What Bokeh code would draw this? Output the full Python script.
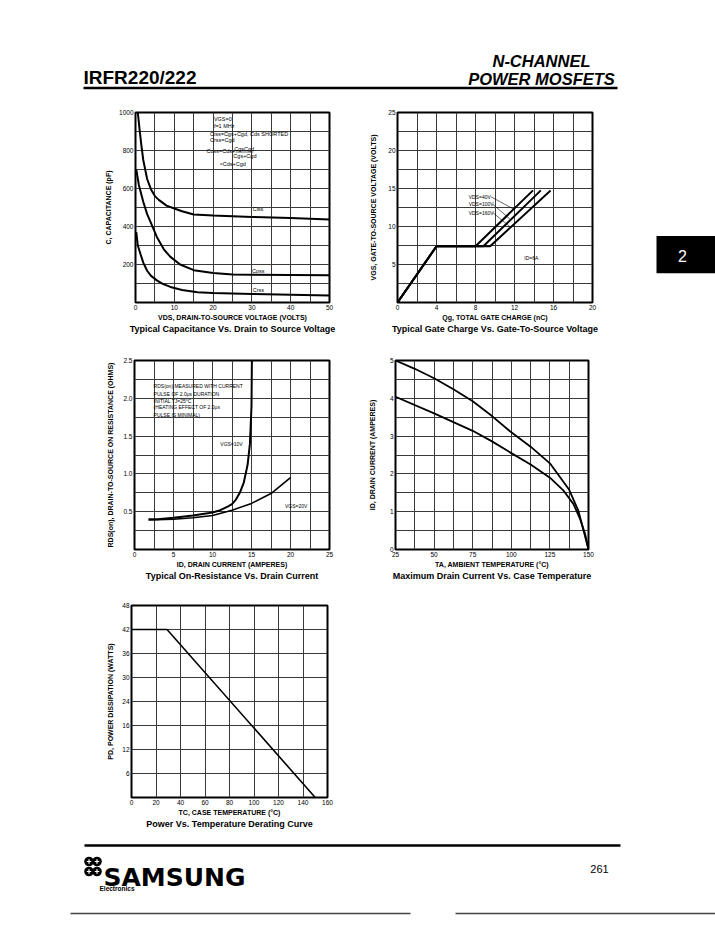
from bokeh.plotting import figure
from bokeh.layouts import column, row
from bokeh.models import FixedTicker, Range1d, Spacer, LinearAxis
from bokeh.core.properties import value
from bokeh.embed import file_html
from bokeh.resources import INLINE

FONT = "Liberation Sans"

# ---------------- data ----------------
# Typical capacitance vs drain-to-source voltage
ciss_vds = [0.6, 1.0, 1.5, 2, 3, 4, 5, 6, 8, 10, 12, 15, 20, 30, 40, 50]
ciss_pf = [1000, 920, 830, 750, 650, 595, 560, 540, 510, 495, 480, 463, 458, 450, 445, 437]
coss_vds = [0.2, 0.85, 2, 3, 4, 5.5, 7.3, 9, 11.5, 15, 20, 25, 30, 40, 50]
coss_pf = [700, 620, 530, 465, 418, 345, 280, 240, 200, 170, 155, 148, 146, 145, 144]
crss_vds = [0.2, 0.6, 1.3, 2, 3, 4, 5.6, 7, 9, 12, 16, 20, 30, 40, 50]
crss_pf = [370, 300, 254, 210, 167, 140, 115, 98, 82, 66, 54, 50, 45, 41, 37]

# Typical gate charge vs gate-to-source voltage (ID = 6A)
qg_40v = [0, 4, 8.0, 13.9]
vgs_40v = [0, 7.4, 7.4, 14.75]
qg_100v = [0, 4, 8.8, 14.7]
vgs_100v = [0, 7.4, 7.4, 14.75]
qg_160v = [0, 4, 9.5, 15.7]
vgs_160v = [0, 7.4, 7.4, 14.75]

# Typical on-resistance vs drain current
id_10v = [1.8, 3, 5, 7.5, 10, 11, 12, 12.5, 13, 13.5, 14, 14.5, 14.8, 15.0, 15.05]
rds_10v = [0.40, 0.40, 0.42, 0.45, 0.49, 0.52, 0.57, 0.60, 0.66, 0.75, 0.88, 1.12, 1.40, 1.90, 2.5]
id_20v = [1.8, 5, 7.5, 10, 12.5, 15, 17.5, 20]
rds_20v = [0.39, 0.40, 0.42, 0.45, 0.52, 0.61, 0.74, 0.95]

# Maximum drain current vs case temperature
ta_upper = [25, 37.5, 50, 62.5, 75, 87.5, 100, 112.5, 125, 137.5, 143.5, 146.8, 150]
id_upper = [5.0, 4.78, 4.53, 4.24, 3.92, 3.53, 3.10, 2.72, 2.28, 1.58, 1.02, 0.5, 0.0]
ta_lower = [25, 50, 75, 87.5, 100, 112.5, 125, 134, 140.3, 144.6, 147.8, 150]
id_lower = [4.04, 3.6, 3.14, 2.86, 2.55, 2.25, 1.9, 1.55, 1.2, 0.8, 0.41, 0.0]

# Power vs temperature derating
tc_deg = [0, 29, 150]
pd_watts = [42, 42, 0]

# tick labels
cap_xticks = [0, 10, 20, 30, 40, 50]
cap_yticks = [200, 400, 600, 800, 1000]
qg_xticks = [0, 4, 8, 12, 16, 20]
qg_yticks = [5, 10, 15, 20, 25]
ron_xticks = [0, 5, 10, 15, 20, 25]
ron_yticks = [0.5, 1.0, 1.5, 2.0, 2.5]
ron_ylabels = ["0.5", "1.0", "1.5", "2.0", "2.5"]
idt_xticks = [25, 50, 75, 100, 125, 150]
idt_yticks = [0, 1, 2, 3, 4, 5]
pd_xticks = [0, 20, 40, 60, 80, 100, 120, 140, 160]
pd_yticks = [6, 12, 18, 24, 30, 36, 42, 48]
pd_ylabels = ["6", "12", "16", "24", "30", "36", "42", "48"]


def frange(a, b, step):
    out = []
    v = a + step
    while v < b - 1e-9:
        out.append(round(v, 6))
        v += step
    return out


def chart(width, height, left, right, top, bottom, xr, yr, xstep, ystep,
          xticks, yticks, xlabel, ylabel, title, ystand):
    p = figure(width=width, height=height, x_range=Range1d(*xr), y_range=Range1d(*yr),
               output_backend="svg", toolbar_location=None, title=None,
               min_border_left=left, min_border_right=right,
               min_border_top=top, min_border_bottom=bottom)
    p.outline_line_color = "black"
    p.outline_line_width = 2
    p.outline_line_alpha = 1
    p.xgrid.ticker = FixedTicker(ticks=frange(xr[0], xr[1], xstep))
    p.ygrid.ticker = FixedTicker(ticks=frange(yr[0], yr[1], ystep))
    for g in (p.xgrid[0], p.ygrid[0]):
        g.grid_line_color = "#3a3a3a"
        g.grid_line_width = 1
        g.grid_line_alpha = 1
    p.xaxis.ticker = FixedTicker(ticks=xticks)
    p.yaxis.ticker = FixedTicker(ticks=yticks)
    for ax in (p.xaxis[0], p.yaxis[0]):
        ax.axis_line_color = None
        ax.major_tick_line_color = None
        ax.minor_tick_line_color = None
        ax.major_tick_out = 0
        ax.major_tick_in = 0
        ax.major_label_text_font = FONT
        ax.major_label_text_font_size = "6.5px"
        ax.major_label_text_color = "black"
        ax.major_label_standoff = 2
        ax.axis_label_text_font = FONT
        ax.axis_label_text_font_size = "7px"
        ax.axis_label_text_font_style = "bold"
        ax.axis_label_text_color = "black"
        ax.axis_label_standoff = 1
    p.yaxis[0].axis_label_standoff = ystand
    p.xaxis[0].axis_label = xlabel
    p.yaxis[0].axis_label = ylabel
    # chart caption, set as the label of a second (tickless) bottom axis
    cap = LinearAxis(ticker=FixedTicker(ticks=[]), axis_label=title,
                     axis_line_color=None, major_tick_line_color=None,
                     minor_tick_line_color=None, major_tick_out=0, major_tick_in=0,
                     major_label_standoff=0, axis_label_standoff=0,
                     axis_label_text_font=FONT, axis_label_text_font_size="9px",
                     axis_label_text_font_style="bold", axis_label_text_color="black")
    p.add_layout(cap, "below")
    return p


def note(p, x, y, txt, size="5.5px", align="left"):
    p.text(x=[x], y=[y], text=[txt], text_font=value(FONT), text_font_size=size,
           text_baseline="middle", text_align=align, text_color="black")


# ---------------- chart 1: capacitance ----------------
p1 = chart(360, 240, 135, 31, 10, 38, (0, 50), (0, 1000), 5, 100, cap_xticks, cap_yticks,
           "VDS, DRAIN-TO-SOURCE VOLTAGE (VOLTS)", "C, CAPACITANCE (pF)",
           "Typical Capacitance Vs. Drain to Source Voltage", 4)
p1.line(ciss_vds, ciss_pf, line_color="black", line_width=2)
p1.line(coss_vds, coss_pf, line_color="black", line_width=2)
p1.line(crss_vds, crss_pf, line_color="black", line_width=2)
note(p1, 30.2, 490, "Ciss")
note(p1, 30, 168, "Coss")
note(p1, 30.2, 68, "Crss")
note(p1, 20.2, 965, "VGS=0")
note(p1, 20.2, 930, "f=1 MHz")
note(p1, 19.2, 886, "Ciss=Cgs+Cgd, Cds SHORTED")
note(p1, 19.2, 853, "Crss=Cgd")
note(p1, 18.3, 795, "Coss=Cds+")
note(p1, 28.0, 810, "CgsCgd", align="center")
p1.segment(x0=[25.8], y0=[792], x1=[30.4], y1=[792], line_color="black", line_width=0.6)
note(p1, 28.2, 770, "Cgs+Cgd", align="center")
note(p1, 21.7, 731, "≈Cds+Cgd")

# ---------------- chart 2: gate charge ----------------
p2 = chart(280, 240, 37, 48, 12, 36, (0, 20), (0, 25), 2, 2.5, qg_xticks, qg_yticks,
           "Qg, TOTAL GATE CHARGE (nC)", "VGS, GATE-TO-SOURCE VOLTAGE (VOLTS)",
           "Typical Gate Charge Vs. Gate-To-Source Voltage", 8)
p2.line(qg_40v, vgs_40v, line_color="black", line_width=2)
p2.line(qg_100v, vgs_100v, line_color="black", line_width=2)
p2.line(qg_160v, vgs_160v, line_color="black", line_width=2)
note(p2, 7.3, 13.9, "VDS=40V", size="5px")
note(p2, 7.3, 12.9, "VDS=100V", size="5px")
note(p2, 7.3, 11.8, "VDS=160V", size="5px")
p2.segment(x0=[9.6, 9.8, 9.8], y0=[13.9, 12.9, 11.8], x1=[11.9, 11.6, 11.6], y1=[12.3, 10.9, 9.9],
           line_color="black", line_width=0.6)
note(p2, 13.0, 5.9, "ID=6A", size="5px")

# ---------------- tab "2" ----------------
tab = figure(width=75, height=240, x_range=Range1d(640, 715), y_range=Range1d(340, 100),
             output_backend="svg", toolbar_location=None, x_axis_type=None, y_axis_type=None,
             min_border=0)
tab.outline_line_color = None
tab.grid.visible = False
tab.quad(left=[656], right=[715], top=[256], bottom=[303], fill_color="black", line_color=None)
tab.text(x=[682], y=[281], text=["2"], text_font=value(FONT), text_font_size="16px",
         text_color="white", text_align="center", text_baseline="middle")

# ---------------- chart 3: on-resistance ----------------
p3 = chart(360, 250, 134, 31, 17, 41, (0, 25), (0, 2.5), 2.5, 0.25, ron_xticks, ron_yticks,
           "ID, DRAIN CURRENT (AMPERES)", "RDS(on), DRAIN-TO-SOURCE ON RESISTANCE (OHMS)",
           "Typical On-Resistance Vs. Drain Current", 6)
p3.yaxis[0].major_label_overrides = {v: s for v, s in zip(ron_yticks, ron_ylabels)}
p3.line(id_10v, rds_10v, line_color="black", line_width=2)
p3.line(id_20v, rds_20v, line_color="black", line_width=1.6)
note(p3, 2.45, 2.16, "RDS(on) MEASURED WITH CURRENT", size="5px")
note(p3, 2.45, 2.06, "PULSE OF 2.0μs DURATION", size="5px")
note(p3, 2.45, 1.97, "INITIAL TJ=25°C", size="5px")
note(p3, 2.45, 1.88, "(HEATING EFFECT OF 2.0μs", size="5px")
note(p3, 2.45, 1.78, "PULSE IS MINIMAL)", size="5px")
note(p3, 11.0, 1.40, "VGS=10V", size="5px")
note(p3, 19.3, 0.57, "VGS=20V", size="5px")

# ---------------- chart 4: max drain current ----------------
p4 = chart(280, 250, 35, 52, 20, 39, (25, 150), (0, 5), 12.5, 0.5, idt_xticks, idt_yticks,
           "TA, AMBIENT TEMPERATURE (°C)", "ID, DRAIN CURRENT (AMPERES)",
           "Maximum Drain Current Vs. Case Temperature", 11)
p4.line(ta_upper, id_upper, line_color="black", line_width=1.8)
p4.line(ta_lower, id_lower, line_color="black", line_width=1.8)

# ---------------- chart 5: power derating ----------------
p5 = chart(360, 248, 131, 33, 15, 41, (0, 160), (0, 48), 20, 6, pd_xticks, pd_yticks,
           "TC, CASE TEMPERATURE (°C)", "PD, POWER DISSIPATION (WATTS)",
           "Power Vs. Temperature Derating Curve", 5)
p5.yaxis[0].major_label_overrides = {v: s for v, s in zip(pd_yticks, pd_ylabels)}
p5.line(tc_deg, pd_watts, line_color="black", line_width=1.6)

# ---------------- header ----------------
hdr = figure(width=715, height=100, x_range=Range1d(0, 715), y_range=Range1d(100, 0),
             output_backend="svg", toolbar_location=None, x_axis_type=None, y_axis_type=None,
             min_border=0)
hdr.outline_line_color = None
hdr.grid.visible = False
hdr.text(x=[83], y=[77], text=["IRFR220/222"], text_font=value(FONT), text_font_size="19px",
         text_font_style="bold", text_baseline="alphabetic", text_align="left", text_color="black")
hdr.text(x=[541, 541], y=[60, 78], text=["N-CHANNEL", "POWER MOSFETS"], text_font=value(FONT),
         text_font_size="16.5px", text_font_style="bold italic", text_baseline="alphabetic",
         text_align="center", text_color="black")
hdr.segment(x0=[83], y0=[87.5], x1=[617], y1=[87.5], line_color="black", line_width=2.5)

# ---------------- footer ----------------
ftr = figure(width=715, height=92, x_range=Range1d(0, 715), y_range=Range1d(930, 838),
             output_backend="svg", toolbar_location=None, x_axis_type=None, y_axis_type=None,
             min_border=0)
ftr.outline_line_color = None
ftr.grid.visible = False
ftr.segment(x0=[84], y0=[845], x1=[620], y1=[845], line_color="black", line_width=2.5)
ftr.circle(x=[88.5, 96.5, 88.5, 96.5], y=[861, 861, 871, 871], radius=4.8,
           fill_color="black", line_color=None)
ftr.segment(x0=[86.3, 94.3, 86.3, 94.3], y0=[861, 861, 871, 871], x1=[90.7, 98.7, 90.7, 98.7],
            y1=[861, 861, 871, 871], line_color="white", line_width=1.2)
ftr.segment(x0=[88.5, 96.5, 88.5, 96.5], y0=[858.8, 858.8, 868.8, 868.8],
            x1=[88.5, 96.5, 88.5, 96.5], y1=[863.2, 863.2, 873.2, 873.2],
            line_color="white", line_width=1.2)
ftr.text(x=[103], y=[877], text=["SAMSUNG"], text_font=value("DejaVu Sans"), text_font_size="25px",
         text_font_style="bold", text_baseline="alphabetic", text_align="left", text_color="black")
ftr.text(x=[99], y=[888], text=["Electronics"], text_font=value(FONT), text_font_size="6.5px",
         text_font_style="bold", text_baseline="alphabetic", text_align="left", text_color="black")
ftr.text(x=[599], y=[868], text=["261"], text_font=value(FONT), text_font_size="11px",
         text_baseline="middle", text_align="center", text_color="black")
ftr.segment(x0=[70, 455], y0=[913, 913], x1=[410, 715], y1=[913, 913], line_color="#444444",
            line_width=1.5)

layout = column(
    hdr,
    row(p1, p2, tab, spacing=0),
    row(p3, p4, Spacer(width=75, height=250), spacing=0),
    row(p5, Spacer(width=355, height=248), spacing=0),
    ftr,
    spacing=0,
)

open("out.html", "w").write(file_html(layout, INLINE, title="IRFR220/222"))
